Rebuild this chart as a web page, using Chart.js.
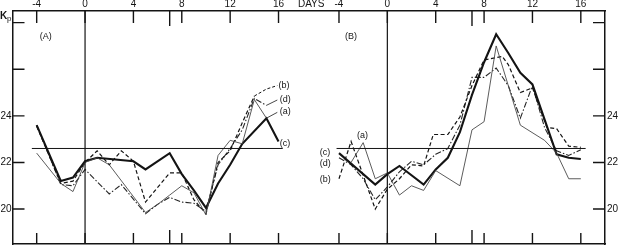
<!DOCTYPE html>
<html>
<head>
<meta charset="utf-8">
<script src="https://cdn.jsdelivr.net/npm/chart.js@4"></script>
<style>
  html, body { margin: 0; padding: 0; background: #fff; }
  #wrap { width: 620px; height: 252px; position: relative; }
</style>
</head>
<body>
<div id="wrap"><canvas id="kp"></canvas></div>
<script>
// ── Data ──────────────────────────────────────────────────────
// Panel (A)
const aDaysA = [-4, -2, -1, 0, 1, 2, 5, 6, 7, 8, 9, 10, 11, 12, 13, 14, 15];
const aValsA = [22.4, 21.1, 20.75, 22.0, 22.2, 21.9, 19.85, 20.2, 20.6, 21.0, 20.7, 19.75, 22.3, 22.95, 22.8, 24.7, 23.9];
const bDaysA = [-4, -2, -1, 0, 1, 2, 3, 4, 5, 7, 8, 9, 10, 11, 12, 13, 14];
const bValsA = [23.55, 21.1, 21.2, 22.0, 22.5, 21.9, 22.5, 22.05, 20.3, 21.55, 21.55, 20.4, 19.8, 22.0, 22.5, 23.7, 24.85];
const cDaysA = [-4, -2, -1, 0, 1, 4, 5, 7, 8, 9, 10, 11, 12, 13, 15, 16];
const cValsA = [23.6, 21.2, 21.35, 22.05, 22.2, 22.05, 21.7, 22.4, 21.5, 20.8, 20.05, 21.1, 21.9, 22.8, 23.9, 22.9];
const dDaysA = [-4, -2, -1, 0, 2, 3, 5, 6, 7, 8, 9, 10, 11, 12, 13, 14, 15];
const dValsA = [23.6, 21.05, 21.0, 21.7, 20.65, 21.05, 19.8, 20.2, 20.5, 20.3, 20.25, 19.9, 21.9, 22.6, 23.4, 24.75, 24.45];

// Panel (B)
const aDaysB = [-3, -2, -1, 0, 1, 2, 3, 4, 6, 7, 8, 9, 11, 13, 14, 15, 16];
const aValsB = [22.0, 22.85, 21.3, 21.55, 20.6, 21.0, 20.8, 21.65, 21.0, 23.4, 23.75, 27.0, 23.6, 22.95, 22.4, 21.3, 21.3];
const bDaysB = [-4, -3, -1, 0, 1, 2, 3, 3.8, 5, 6, 7, 8, 9.5, 10, 11, 12, 13.2, 14, 15, 16];
const bValsB = [21.3, 22.9, 20.0, 20.85, 21.3, 21.9, 21.85, 23.2, 23.2, 23.95, 25.3, 26.4, 26.55, 26.2, 25.0, 25.2, 23.5, 23.45, 22.7, 22.65];
const cDaysB = [-4, -1, 0, 1, 3, 4, 5, 6, 7, 8, 9, 10, 11, 12, 14, 15, 16];
const cValsB = [22.4, 21.05, 21.5, 21.85, 21.05, 21.7, 22.2, 23.3, 24.9, 26.3, 27.5, 26.7, 25.85, 25.35, 22.35, 22.2, 22.15];
const dDaysB = [-4, -3, -2, -1, 0, 1, 2, 3, 4, 5, 6, 7, 8, 9, 10, 11, 12, 13, 14, 15, 16];
const dValsB = [22.2, 21.9, 21.3, 20.4, 20.95, 21.6, 22.05, 21.9, 22.35, 22.6, 23.6, 25.65, 25.65, 26.05, 25.3, 23.9, 25.3, 23.5, 22.5, 22.3, 22.55];

// label leaders, panel (A)
const leadBDays = [14, 15, 15.9];
const leadBVals = [24.85, 25.15, 25.3];
const leadDDays = [15, 15.9];
const leadDVals = [24.45, 24.68];
const leadADays = [15, 15.9];
const leadAVals = [23.9, 24.15];

// reference level and zero-day line
const refLevel = 22.6;
const refSpanA = [-4.4, 16.35];
const refSpanB = [-4.2, 16.4];

// axes
const offsetB = 25;            // panel (B) day 0 sits 25 days right of panel (A) day 0
const dayTicks = [-4, 0, 4, 8, 12, 16];
const dayTickText = ['-4', '0', '4', '8', '12', '16'];
const longTickDay = 7;
const daysLabelAt = 18.7;
const kpTicks = [20, 22, 24, 26, 28];
const kpLabelled = [20, 22, 24];

// text labels: [text, day, kp, panelOffset]
const seriesText = [
  ['(A)', -3.75, 27.4, 0], ['(B)', -3.5, 27.4, offsetB],
  ['(b)', 16.0, 25.3, 0], ['(d)', 16.1, 24.7, 0], ['(a)', 16.1, 24.17, 0], ['(c)', 16.1, 22.83, 0],
  ['(a)', -2.5, 23.15, offsetB], ['(c)', -5.6, 22.44, offsetB], ['(d)', -5.6, 21.95, offsetB], ['(b)', -5.6, 21.25, offsetB]
];

// ── Helpers ───────────────────────────────────────────────────
const pts = (days, vals, off = 0) => days.map((d, i) => ({ x: d + off, y: vals[i] }));
const INK = '#141414';
const FONT = "'Liberation Sans', 'DejaVu Sans', sans-serif";

const styles = {
  a: { borderColor: '#4a4a4a', borderWidth: 0.9 },
  b: { borderColor: INK, borderWidth: 1.2, borderDash: [4, 2.5] },
  c: { borderColor: INK, borderWidth: 2.1 },
  d: { borderColor: '#262626', borderWidth: 1.1, borderDash: [6, 2, 1.5, 2] }
};

function series(label, data, st) {
  return Object.assign({ label, data, pointRadius: 0, tension: 0, fill: false }, st);
}

const allTop = [];
const allTopText = [];
[0, offsetB].forEach(off => dayTicks.forEach((d, i) => { allTop.push(d + off); allTopText.push(dayTickText[i]); }));
allTop.splice(6, 0, daysLabelAt);
allTopText.splice(6, 0, 'DAYS');

// ── Plugin: inward ticks + text labels ────────────────────────
const decorations = {
  id: 'decorations',
  afterDatasetsDraw(chart) {
    const { ctx, chartArea: ca, scales } = chart;
    const x = scales.x, y = scales.y;
    ctx.save();
    ctx.strokeStyle = INK;
    ctx.lineWidth = 1.4;
    ctx.beginPath();
    [0, offsetB].forEach(off => {
      dayTicks.concat([longTickDay]).forEach(d => {
        const px = x.getPixelForValue(d + off);
        const len = d === longTickDay ? 15 : 12;
        ctx.moveTo(px, ca.top); ctx.lineTo(px, ca.top + len);
        ctx.moveTo(px, ca.bottom); ctx.lineTo(px, ca.bottom - (d === longTickDay ? 14 : 11));
      });
    });
    kpTicks.forEach(v => {
      const py = y.getPixelForValue(v);
      ctx.moveTo(ca.left, py); ctx.lineTo(ca.left + 12, py);
      ctx.moveTo(ca.right, py); ctx.lineTo(ca.right - 12, py);
    });
    ctx.stroke();

    ctx.fillStyle = INK;
    ctx.font = `9px ${FONT}`;
    ctx.textBaseline = 'middle';
    ctx.textAlign = 'left';
    seriesText.forEach(([t, d, v, off]) => {
      ctx.fillText(t, x.getPixelForValue(d + off), y.getPixelForValue(v));
    });

    // axis title K with subscript p
    ctx.font = `bold 10px ${FONT}`;
    ctx.textBaseline = 'alphabetic';
    ctx.fillText('K', 0, 19);
    ctx.font = `8px ${FONT}`;
    ctx.fillText('p', 7, 21);
    ctx.restore();
  }
};

// ── Chart ─────────────────────────────────────────────────────
const border = { display: true, color: INK, width: 1.5 };
const tickFont = { family: FONT, size: 10 };

new Chart(document.getElementById('kp'), {
  type: 'line',
  data: {
    datasets: [
      series('ref A', pts(refSpanA, [refLevel, refLevel]), { borderColor: INK, borderWidth: 1 }),
      series('ref B', pts(refSpanB, [refLevel, refLevel], offsetB), { borderColor: INK, borderWidth: 1 }),
      series('day0 A', pts([0, 0], [18.5, 28.5]), { borderColor: INK, borderWidth: 1.2 }),
      series('day0 B', pts([0, 0], [18.5, 28.5], offsetB), { borderColor: INK, borderWidth: 1.2 }),
      series('(a) A', pts(aDaysA, aValsA), styles.a),
      series('(b) A', pts(bDaysA, bValsA), styles.b),
      series('(c) A', pts(cDaysA, cValsA), styles.c),
      series('(d) A', pts(dDaysA, dValsA), styles.d),
      series('(a) B', pts(aDaysB, aValsB, offsetB), styles.a),
      series('(b) B', pts(bDaysB, bValsB, offsetB), styles.b),
      series('(c) B', pts(cDaysB, cValsB, offsetB), styles.c),
      series('(d) B', pts(dDaysB, dValsB, offsetB), styles.d),
      series('lead b', pts(leadBDays, leadBVals), { borderColor: INK, borderWidth: 1, borderDash: [3, 2] }),
      series('lead d', pts(leadDDays, leadDVals), { borderColor: '#333', borderWidth: 0.9 }),
      series('lead a', pts(leadADays, leadAVals), { borderColor: '#333', borderWidth: 0.9 })
    ]
  },
  options: {
    responsive: true,
    maintainAspectRatio: false,
    animation: false,
    layout: { padding: 0 },
    plugins: { legend: { display: false }, tooltip: { enabled: false } },
    scales: {
      x: {
        type: 'linear', position: 'bottom', min: -6, max: 43,
        ticks: { display: false },
        grid: { display: false, drawTicks: false },
        border,
        afterFit: s => { s.height = 4; }
      },
      xTop: {
        type: 'linear', position: 'top', min: -6, max: 43,
        grid: { display: false, drawTicks: false },
        border,
        afterBuildTicks: s => { s.ticks = allTop.map(v => ({ value: v })); },
        ticks: {
          autoSkip: false, maxRotation: 0, padding: 1, color: INK, font: tickFont,
          callback: (v, i) => allTopText[i]
        },
        afterFit: s => { s.height = 11; }
      },
      y: {
        position: 'left', min: 18.5, max: 28.5,
        grid: { display: false, drawTicks: false },
        border,
        afterBuildTicks: s => { s.ticks = kpTicks.map(v => ({ value: v })); },
        ticks: { padding: 1, color: INK, font: tickFont, callback: v => kpLabelled.includes(v) ? String(v) : '' },
        afterFit: s => { s.width = 12.5; }
      },
      yR: {
        position: 'right', min: 18.5, max: 28.5,
        grid: { display: false, drawTicks: false },
        border,
        afterBuildTicks: s => { s.ticks = kpTicks.map(v => ({ value: v })); },
        ticks: { padding: 2, color: INK, font: tickFont, callback: v => kpLabelled.includes(v) ? String(v) : '' },
        afterFit: s => { s.width = 15; }
      }
    }
  },
  plugins: [decorations]
});
</script>
</body>
</html>
